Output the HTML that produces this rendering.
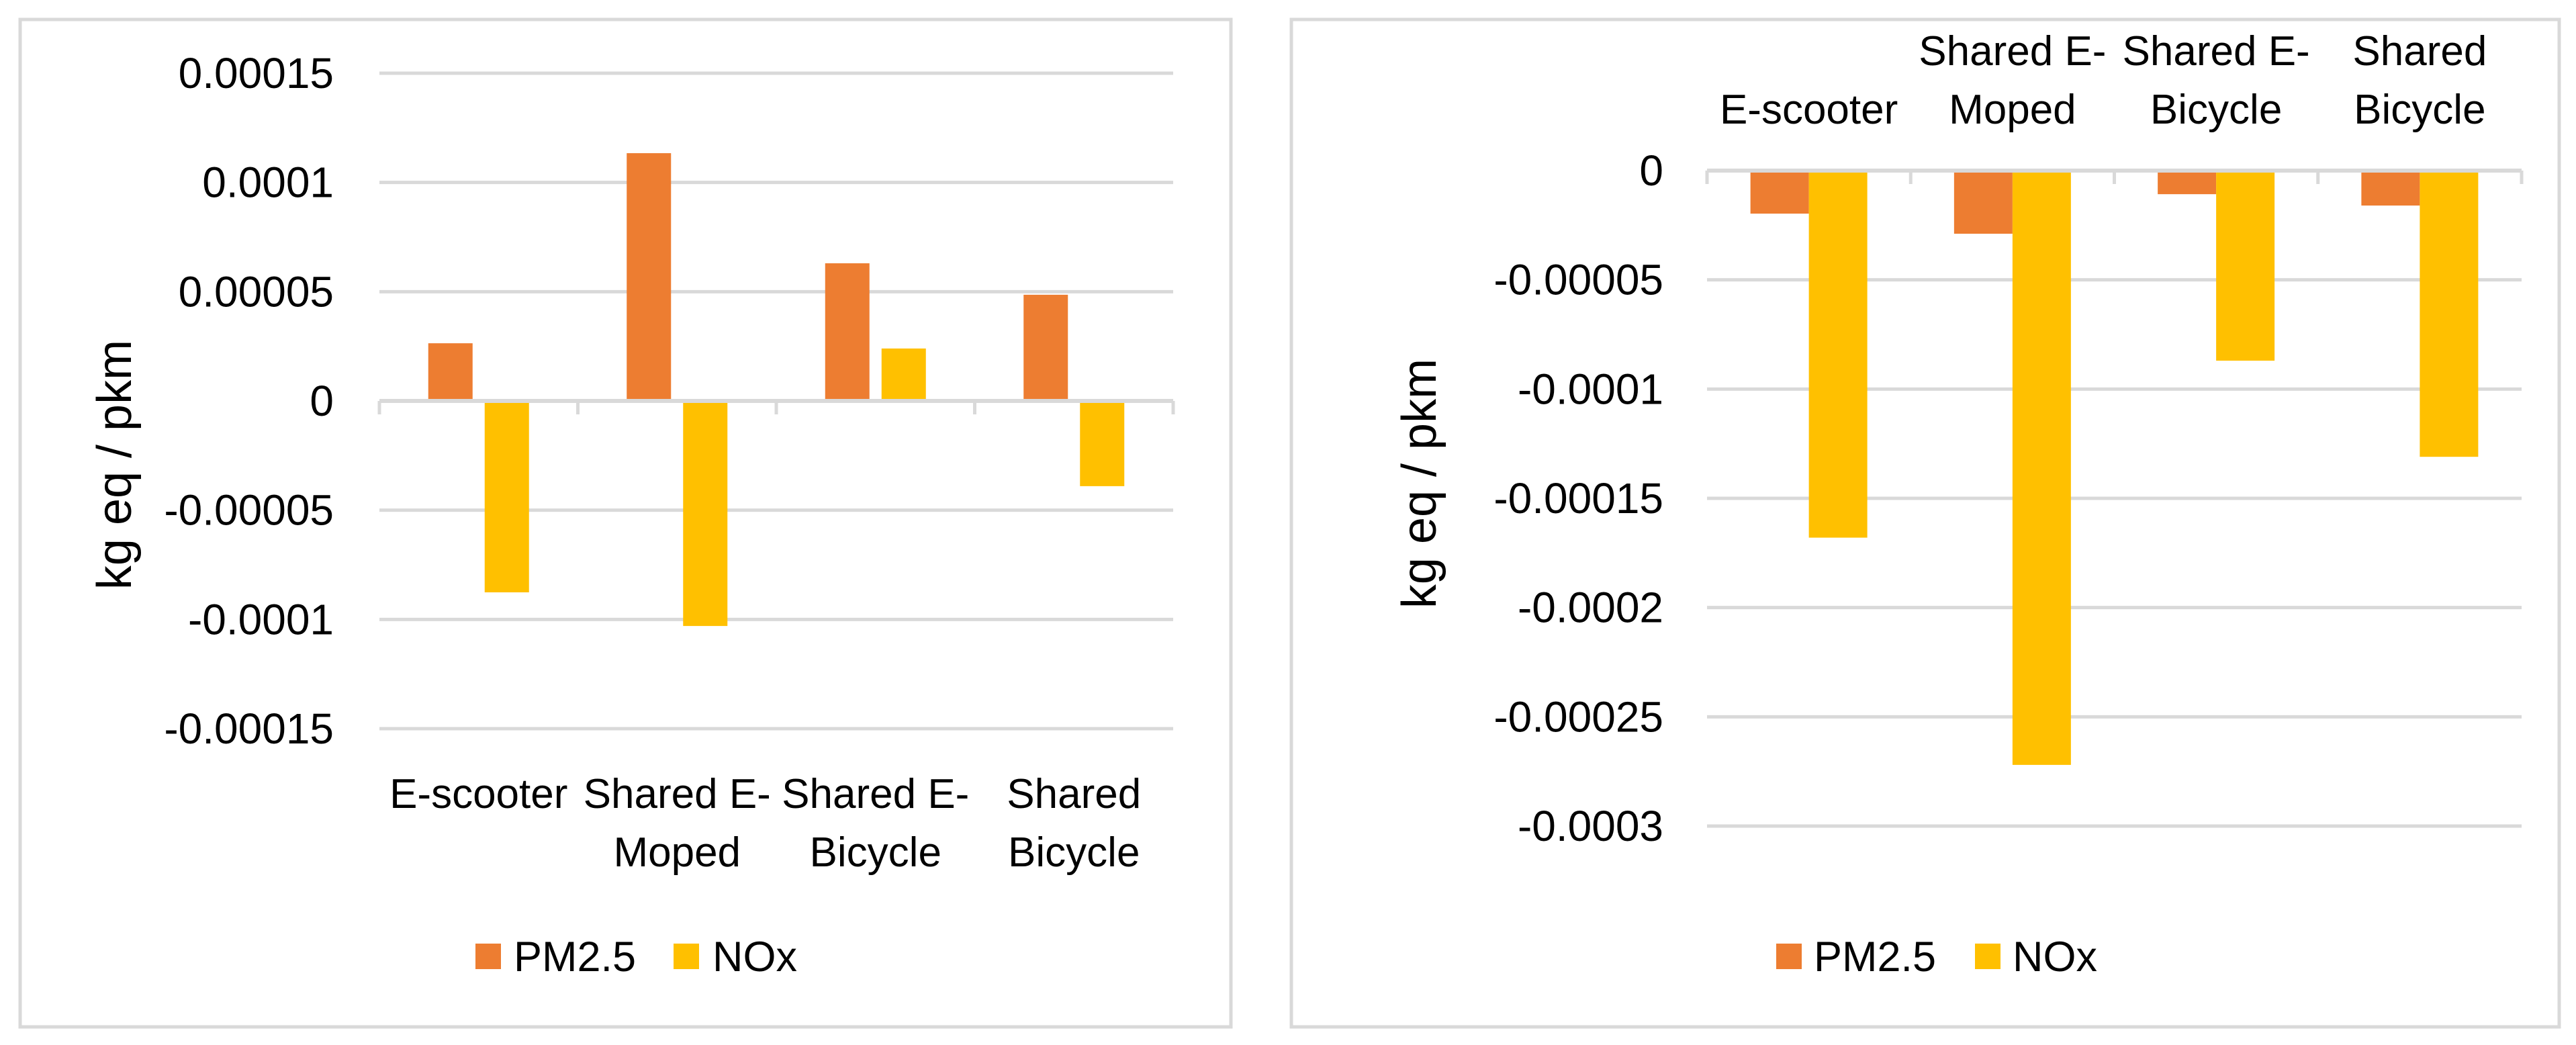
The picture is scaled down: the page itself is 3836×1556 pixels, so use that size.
<!DOCTYPE html>
<html><head><meta charset="utf-8"><style>
html,body{margin:0;padding:0;background:#fff;}
svg{display:block;font-family:"Liberation Sans",sans-serif;}
</style></head><body>
<svg id="svg" width="3836" height="1556" viewBox="0 0 3836 1556" xmlns="http://www.w3.org/2000/svg">
<rect x="30" y="29" width="1803" height="1500" fill="#fff" stroke="#d9d9d9" stroke-width="5"/>
<rect x="1923" y="29" width="1888" height="1500" fill="#fff" stroke="#d9d9d9" stroke-width="5"/>
<g id="left"></g>
<g id="right"></g>
</svg>
<script>
const categories = ["E-scooter", "Shared E-Moped", "Shared E-Bicycle", "Shared Bicycle"];
const catLines = [["E-scooter"], ["Shared E-", "Moped"], ["Shared E-", "Bicycle"], ["Shared", "Bicycle"]];
const leftPM = [0.0000264, 0.0001134, 0.000063, 0.0000486];
const leftNOx = [-0.0000876, -0.000103, 0.000024, -0.000039];
const leftTicks = [0.00015, 0.0001, 0.00005, 0, -0.00005, -0.0001, -0.00015];
const leftTickLabels = ["0.00015", "0.0001", "0.00005", "0", "-0.00005", "-0.0001", "-0.00015"];
const rightPM = [-0.0000197, -0.0000289, -0.0000108, -0.000016];
const rightNOx = [-0.000168, -0.000272, -0.000087, -0.000131];
const rightTicks = [0, -0.00005, -0.0001, -0.00015, -0.0002, -0.00025, -0.0003];
const rightTickLabels = ["0", "-0.00005", "-0.0001", "-0.00015", "-0.0002", "-0.00025", "-0.0003"];

const NS = "http://www.w3.org/2000/svg";
function mk(parent, tag, attrs, text){
  const e = document.createElementNS(NS, tag);
  for (const k in attrs) e.setAttribute(k, attrs[k]);
  if (text !== undefined) e.textContent = text;
  parent.appendChild(e);
  return e;
}
function drawChart(g, cfg){
  const y = v => cfg.y0 + (v - cfg.vTop) / (cfg.vBot - cfg.vTop) * (cfg.y1 - cfg.y0);
  const cw = (cfg.x1 - cfg.x0) / categories.length;
  cfg.ticks.forEach((t, i) => {
    const ln = mk(g, "line", {x1: cfg.x0, x2: cfg.x1, y1: y(t), y2: y(t), stroke: "#d9d9d9", "stroke-width": 5});
    
    
    const tx = mk(g, "text", {x: cfg.tickX, y: y(t) + 22, "text-anchor": "end", "font-size": 64, fill: "#000"}, cfg.tickLabels[i]);
    
    
  });
  const zy = y(0);
  for (let i = 0; i <= categories.length; i++) {
    const tk = mk(g, "line", {x1: cfg.x0 + i * cw, x2: cfg.x0 + i * cw, y1: zy, y2: zy + cfg.tickDir * 20, stroke: "#d9d9d9", "stroke-width": 5});
    
    
  }
  categories.forEach((c, i) => {
    const cx = cfg.x0 + (i + 0.5) * cw;
    const v1 = cfg.pm[i], v2 = cfg.nox[i];
    const b1 = mk(g, "rect", {x: cx - cfg.gap / 2 - cfg.bw, y: Math.min(y(v1), zy), width: cfg.bw, height: Math.abs(y(v1) - zy), fill: "#ed7d31"});
    
    
    const b2 = mk(g, "rect", {x: cx + cfg.gap / 2, y: Math.min(y(v2), zy), width: cfg.bw, height: Math.abs(y(v2) - zy), fill: "#ffc000"});
    
    
    const lines = catLines[i];
    lines.forEach((l, j) => {
      const idx = cfg.bottomAlign ? j + (2 - lines.length) : j;
      const t = mk(g, "text", {x: cx, y: cfg.catY + idx * 87, "text-anchor": "middle", "font-size": 62, fill: "#000"}, l);
      
      
    });
  });
  const ax = mk(g, "line", {x1: cfg.x0, x2: cfg.x1, y1: zy, y2: zy, stroke: "#d9d9d9", "stroke-width": 6});
  
  
  const tt = mk(g, "text", {x: cfg.titleX, y: cfg.titleY, "text-anchor": "middle", "font-size": 72, fill: "#000", transform: `rotate(-90 ${cfg.titleX} ${cfg.titleY})`}, "kg eq / pkm");
  
  
  const s1 = mk(g, "rect", {x: cfg.legX[0], y: 1405, width: 38, height: 38, fill: "#ed7d31"});
  
  
  const l1 = mk(g, "text", {x: cfg.legX[1], y: 1446, "font-size": 63, fill: "#000"}, "PM2.5");
  
  
  const s2 = mk(g, "rect", {x: cfg.legX[2], y: 1405, width: 38, height: 38, fill: "#ffc000"});
  
  
  const l2 = mk(g, "text", {x: cfg.legX[3], y: 1446, "font-size": 63, fill: "#000"}, "NOx");
  
  
}
const gl = document.getElementById("left");


const gr = document.getElementById("right");


drawChart(gl, {x0: 565, x1: 1747, y0: 109, y1: 1085, vTop: 0.00015, vBot: -0.00015, ticks: leftTicks, tickLabels: leftTickLabels,
  pm: leftPM, nox: leftNOx, bw: 66, gap: 18, tickX: 497, tickDir: 1, catY: 1203, bottomAlign: false,
  titleX: 195, titleY: 692, legX: [708, 765, 1003, 1061]});
drawChart(gr, {x0: 2542, x1: 3755, y0: 254, y1: 1230, vTop: 0, vBot: -0.0003, ticks: rightTicks, tickLabels: rightTickLabels,
  pm: rightPM, nox: rightNOx, bw: 87, gap: 0, tickX: 2477, tickDir: 1, catY: 97, bottomAlign: true,
  titleX: 2138, titleY: 720, legX: [2645, 2701, 2941, 2997]});
</script>
</body></html>
